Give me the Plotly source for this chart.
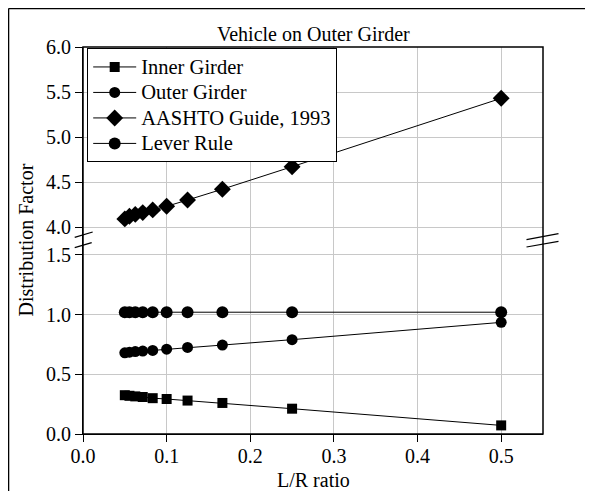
import plotly.graph_objects as go

# ---- data ----
lr_ratio = [1/20, 1/18, 1/16, 1/14, 1/12, 1/10, 1/8, 1/6, 1/4, 1/2]
inner_girder = [0.325, 0.320, 0.315, 0.310, 0.300, 0.293, 0.280, 0.260, 0.212, 0.072]
outer_girder = [0.680, 0.685, 0.690, 0.695, 0.700, 0.710, 0.725, 0.745, 0.790, 0.935]
aashto_1993 = [4.09, 4.12, 4.14, 4.16, 4.19, 4.23, 4.30, 4.42, 4.67, 5.43]
lever_rule = [1.02, 1.02, 1.02, 1.02, 1.02, 1.02, 1.02, 1.02, 1.02, 1.02]
series_names = ["Inner Girder", "Outer Girder", "AASHTO Guide, 1993", "Lever Rule"]

x_ticks = [0.0, 0.1, 0.2, 0.3, 0.4, 0.5]
y_low_ticks = [0.0, 0.5, 1.0, 1.5]
y_high_ticks = [4.0, 4.5, 5.0, 5.5, 6.0]

FONT = "Liberation Serif, Times New Roman, serif"
FS = 20

# page offset (browser body margin)
O = 8
W, H = 593 - O, 491 - O
# plot area in page pixels
L, R, T, B = 83.3, 543.5, 47.3, 434.3
PW, PH = R - L, B - T
def px(x):
    return (x - L) / PW
def py(y):
    return (B - y) / PH

brk = py(241)

def lname(s):
    # legend rows are spaced for a ~17px font; text itself drawn larger
    return f'<span style="font-size:20.5px">{s}</span>'

fig = go.Figure()
line = dict(color="black", width=1)
fig.add_trace(go.Scatter(x=lr_ratio, y=inner_girder, name=lname(series_names[0]), mode="lines+markers",
                         line=line, marker=dict(symbol="square", size=10, color="black"),
                         xaxis="x", yaxis="y"))
fig.add_trace(go.Scatter(x=lr_ratio, y=outer_girder, name=lname(series_names[1]), mode="lines+markers",
                         line=line, marker=dict(symbol="circle", size=11, color="black"),
                         xaxis="x", yaxis="y"))
fig.add_trace(go.Scatter(x=lr_ratio, y=aashto_1993, name=lname(series_names[2]), mode="lines+markers",
                         line=line, marker=dict(symbol="diamond", size=13, color="black"),
                         xaxis="x", yaxis="y2"))
fig.add_trace(go.Scatter(x=lr_ratio, y=lever_rule, name=lname(series_names[3]), mode="lines+markers",
                         line=line, marker=dict(symbol="circle", size=12, color="black"),
                         xaxis="x", yaxis="y"))

axcommon = dict(showgrid=True, gridcolor="#c8c8c8", gridwidth=1, zeroline=False,
                ticks="outside", ticklen=7, tickwidth=1, tickcolor="black",
                tickfont=dict(family=FONT, size=FS, color="black"), showline=True,
                linecolor="black", linewidth=1)

fig.update_layout(
    width=W, height=H,
    margin=dict(l=L - O, r=593 - R, t=T - O, b=491 - B),
    paper_bgcolor="white", plot_bgcolor="white",
    showlegend=True,
    legend=dict(x=px(87.5), y=py(48.5), xanchor="left", yanchor="top",
                bgcolor="white", bordercolor="black", borderwidth=1,
                font=dict(family=FONT, size=17.3, color="black"),
                tracegroupgap=0, itemwidth=43),
    xaxis=dict(range=[0, 0.55], tickvals=x_ticks, ticktext=[f"{v:.1f}" for v in x_ticks],
               anchor="y", ticklabelstandoff=-3, **axcommon),
    yaxis=dict(range=[0, (B - 241) / 119.4], domain=[0, brk], tickvals=y_low_ticks,
               ticktext=[f"{v:.1f}" for v in y_low_ticks], anchor="x", **axcommon),
    yaxis2=dict(range=[6.0 - (241 - T) / 90.0, 6.0], domain=[brk, 1], tickvals=y_high_ticks,
                ticktext=[f"{v:.1f}" for v in y_high_ticks], anchor="x", **axcommon),
)

shapes = []
# plot frame
shapes.append(dict(type="rect", xref="paper", yref="paper", x0=0, x1=1, y0=0, y1=1,
                   line=dict(color="black", width=1.5)))
# outer figure frame (left and top edges)
shapes.append(dict(type="line", xref="paper", yref="paper", x0=px(O + 0.8), x1=px(O + 0.8), y0=py(O + 0.8), y1=py(500),
                   line=dict(color="black", width=1.5)))
shapes.append(dict(type="line", xref="paper", yref="paper", x0=px(O + 0.8), x1=px(600), y0=py(O + 0.8), y1=py(O + 0.8),
                   line=dict(color="black", width=1.5)))
# axis break marks
for (x0, y0, x1, y1) in [(75, 237.7, 93, 232.3), (75, 248, 92, 243),
                         (527, 240, 559, 234), (527, 247.3, 559, 241.7)]:
    shapes.append(dict(type="line", xref="paper", yref="paper", x0=px(x0), y0=py(y0), x1=px(x1), y1=py(y1),
                       line=dict(color="black", width=1.2)))
fig.update_layout(shapes=shapes)

fig.add_annotation(text="Vehicle on Outer Girder", x=0.5, y=py(34), xref="paper", yref="paper",
                   showarrow=False, xanchor="center", yanchor="middle",
                   font=dict(family=FONT, size=FS, color="black"))
fig.add_annotation(text="Distribution Factor", x=px(26), y=py(240), xref="paper", yref="paper",
                   showarrow=False, xanchor="center", yanchor="middle", textangle=-90,
                   font=dict(family=FONT, size=FS, color="black"))
fig.add_annotation(text="L/R ratio", x=0.5, y=py(480), xref="paper", yref="paper",
                   showarrow=False, xanchor="center", yanchor="middle",
                   font=dict(family=FONT, size=FS, color="black"))

fig.write_html("out.html")
